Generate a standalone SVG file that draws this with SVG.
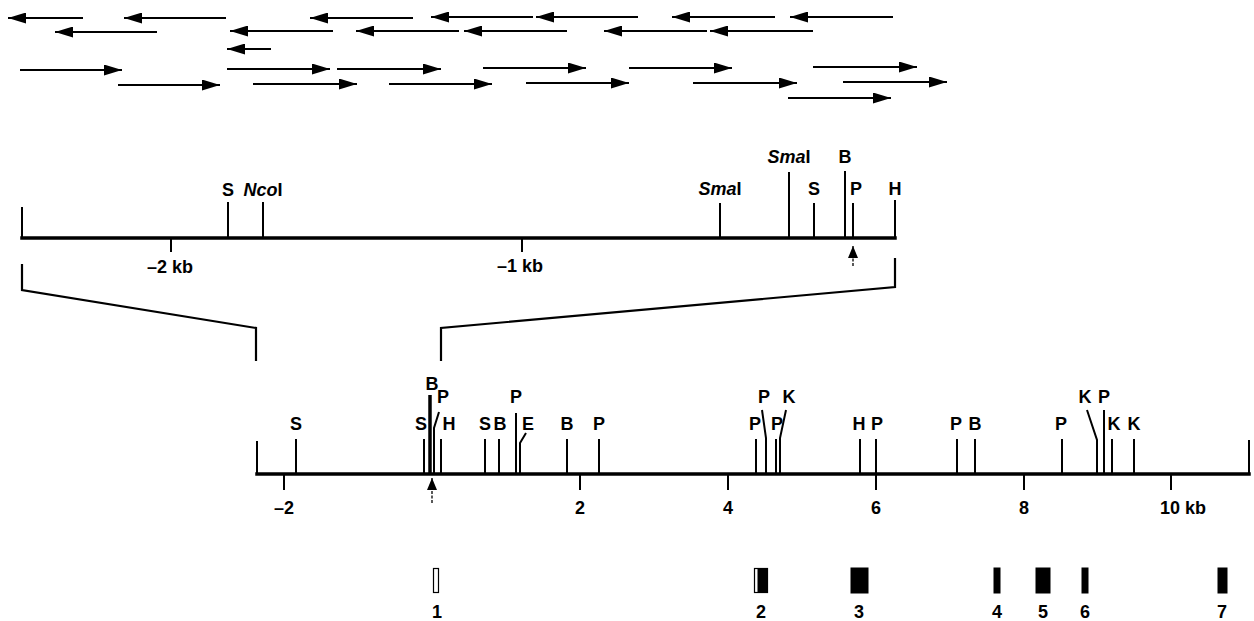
<svg xmlns="http://www.w3.org/2000/svg" width="1254" height="621" viewBox="0 0 1254 621">
<style>
text{font-family:"Liberation Sans",Arial,sans-serif;font-weight:bold;font-size:18px;fill:#000;text-anchor:middle}
.rd{stroke:#000;stroke-width:2;fill:none;marker-end:url(#ah)}
.ax{stroke:#000;stroke-width:3.5;fill:none;stroke-linecap:square}
.tk{stroke:#000;stroke-width:2;fill:none}
.br{stroke:#000;stroke-width:2.2;fill:none;stroke-linejoin:miter}
.it{font-style:italic}
.ex{fill:#000;stroke:#000;stroke-width:1}
.pa{stroke:#000;stroke-width:1.3;stroke-dasharray:3,1.5;marker-end:url(#up)}
</style>
<defs>
<marker id="ah" markerUnits="userSpaceOnUse" markerWidth="19" markerHeight="11" refX="18" refY="5.5" orient="auto">
<path d="M0,0 L18,5.5 L0,11 z" fill="#000"/>
</marker>
<marker id="up" markerUnits="userSpaceOnUse" markerWidth="13" markerHeight="11" refX="12" refY="5" orient="auto">
<path d="M0,0 L12,5 L0,10 z" fill="#000"/>
</marker>
</defs>

<g id="reads">
<line class="rd" x1="83" y1="18" x2="8" y2="18"/>
<line class="rd" x1="226" y1="18" x2="124" y2="18"/>
<line class="rd" x1="413" y1="18" x2="310" y2="18"/>
<line class="rd" x1="533" y1="17" x2="431" y2="17"/>
<line class="rd" x1="638" y1="17" x2="536" y2="17"/>
<line class="rd" x1="775" y1="17" x2="672" y2="17"/>
<line class="rd" x1="893" y1="17" x2="790" y2="17"/>
<line class="rd" x1="157" y1="32" x2="55" y2="32"/>
<line class="rd" x1="333" y1="31" x2="230" y2="31"/>
<line class="rd" x1="459" y1="31" x2="356" y2="31"/>
<line class="rd" x1="567" y1="31" x2="464" y2="31"/>
<line class="rd" x1="707" y1="31" x2="604" y2="31"/>
<line class="rd" x1="813" y1="31" x2="710" y2="31"/>
<line class="rd" x1="271" y1="49" x2="227" y2="49"/>
<line class="rd" x1="20" y1="70" x2="122" y2="70"/>
<line class="rd" x1="227" y1="69" x2="330" y2="69"/>
<line class="rd" x1="337" y1="69" x2="441" y2="69"/>
<line class="rd" x1="483" y1="68" x2="586" y2="68"/>
<line class="rd" x1="629" y1="68" x2="732" y2="68"/>
<line class="rd" x1="813" y1="67" x2="917" y2="67"/>
<line class="rd" x1="118" y1="85" x2="220" y2="85"/>
<line class="rd" x1="253" y1="84" x2="357" y2="84"/>
<line class="rd" x1="389" y1="84" x2="492" y2="84"/>
<line class="rd" x1="526" y1="83" x2="629" y2="83"/>
<line class="rd" x1="693" y1="83" x2="797" y2="83"/>
<line class="rd" x1="843" y1="82" x2="947" y2="82"/>
<line class="rd" x1="788" y1="98" x2="891" y2="98"/>
</g>

<g id="upper-map">
<line class="ax" x1="22" y1="238" x2="895" y2="238"/>
<line class="tk" x1="22" y1="207" x2="22" y2="238"/>
<line class="tk" x1="895" y1="200" x2="895" y2="238"/>
<line class="tk" x1="171" y1="238" x2="171" y2="252"/>
<line class="tk" x1="522" y1="238" x2="522" y2="252"/>
<text x="170" y="273">–2 kb</text>
<text x="520" y="272">–1 kb</text>
<line class="tk" x1="228" y1="202" x2="228" y2="238"/>
<text x="228" y="196">S</text>
<line class="tk" x1="263" y1="202" x2="263" y2="238"/>
<text x="263" y="196"><tspan class="it">Nco</tspan>I</text>
<line class="tk" x1="720" y1="203" x2="720" y2="238"/>
<text x="720" y="195"><tspan class="it">Sma</tspan>I</text>
<line class="tk" x1="789" y1="172" x2="789" y2="238"/>
<text x="789" y="163"><tspan class="it">Sma</tspan>I</text>
<line class="tk" x1="814" y1="203" x2="814" y2="238"/>
<text x="814" y="195">S</text>
<line class="tk" x1="845" y1="171" x2="845" y2="238"/>
<text x="845" y="163">B</text>
<line class="tk" x1="853" y1="203" x2="853" y2="238"/>
<text x="856" y="195">P</text>
<text x="895" y="195">H</text>
<line class="pa" x1="853" y1="266" x2="853" y2="246"/>
</g>

<g id="connectors">
<polyline class="br" points="22,264 22,290 256,328 256,361"/>
<polyline class="br" points="895,258 895,287 441,328 441,361"/>
</g>

<g id="lower-map">
<line class="ax" x1="257" y1="474" x2="1249" y2="474"/>
<line class="tk" x1="257" y1="441" x2="257" y2="474"/>
<line class="tk" x1="1249" y1="440" x2="1249" y2="474"/>
<line class="tk" x1="284" y1="474" x2="284" y2="490"/>
<line class="tk" x1="580" y1="474" x2="580" y2="490"/>
<line class="tk" x1="728" y1="474" x2="728" y2="490"/>
<line class="tk" x1="876" y1="474" x2="876" y2="490"/>
<line class="tk" x1="1024" y1="474" x2="1024" y2="490"/>
<line class="tk" x1="1171" y1="474" x2="1171" y2="490"/>
<text x="284" y="514">–2</text>
<text x="580" y="514">2</text>
<text x="728" y="514">4</text>
<text x="876" y="514">6</text>
<text x="1024" y="514">8</text>
<text x="1160" y="514" style="text-anchor:start">10 kb</text>
<line class="pa" x1="432" y1="503" x2="432" y2="478"/>

<line class="tk" x1="296" y1="439" x2="296" y2="474"/>
<text x="296" y="430">S</text>
<line class="tk" x1="424" y1="439" x2="424" y2="474"/>
<text x="421" y="430">S</text>
<line x1="430" y1="395" x2="430" y2="474" stroke="#000" stroke-width="3.5"/>
<text x="432" y="390">B</text>
<polyline class="tk" points="439,412 434,428 434,474"/>
<text x="443" y="403">P</text>
<line class="tk" x1="441" y1="439" x2="441" y2="474"/>
<text x="449" y="430">H</text>
<line class="tk" x1="485" y1="439" x2="485" y2="474"/>
<text x="485" y="430">S</text>
<line class="tk" x1="499" y1="439" x2="499" y2="474"/>
<text x="500" y="430">B</text>
<line class="tk" x1="516" y1="413" x2="516" y2="474"/>
<text x="516" y="403">P</text>
<polyline class="tk" points="526,433 520,443 520,474"/>
<text x="528" y="430">E</text>
<line class="tk" x1="567" y1="439" x2="567" y2="474"/>
<text x="567" y="430">B</text>
<line class="tk" x1="599" y1="439" x2="599" y2="474"/>
<text x="599" y="430">P</text>

<line class="tk" x1="756" y1="439" x2="756" y2="474"/>
<text x="755" y="430">P</text>
<polyline class="tk" points="762,410 766,438 766,474"/>
<text x="764" y="403">P</text>
<line class="tk" x1="776" y1="439" x2="776" y2="474"/>
<text x="777" y="430">P</text>
<polyline class="tk" points="786,410 780,438 780,474"/>
<text x="789" y="403">K</text>
<line class="tk" x1="860" y1="439" x2="860" y2="474"/>
<text x="859" y="430">H</text>
<line class="tk" x1="876" y1="439" x2="876" y2="474"/>
<text x="877" y="430">P</text>
<line class="tk" x1="957" y1="439" x2="957" y2="474"/>
<text x="956" y="430">P</text>
<line class="tk" x1="975" y1="439" x2="975" y2="474"/>
<text x="975" y="430">B</text>
<line class="tk" x1="1062" y1="439" x2="1062" y2="474"/>
<text x="1061" y="430">P</text>
<polyline class="tk" points="1087,410 1097,440 1097,474"/>
<text x="1085" y="403">K</text>
<line class="tk" x1="1104" y1="410" x2="1104" y2="474"/>
<text x="1104" y="403">P</text>
<line class="tk" x1="1112" y1="439" x2="1112" y2="474"/>
<text x="1114" y="430">K</text>
<line class="tk" x1="1134" y1="439" x2="1134" y2="474"/>
<text x="1134" y="430">K</text>
</g>

<g id="exons">
<rect x="433.5" y="568.5" width="5" height="24" fill="#fff" stroke="#000" stroke-width="1.2"/>
<text x="437" y="618">1</text>
<rect x="754.5" y="568.5" width="13" height="24" fill="#fff" stroke="#000" stroke-width="1.2"/>
<rect class="ex" x="758" y="568.5" width="9.5" height="24"/>
<text x="761" y="618">2</text>
<rect class="ex" x="851" y="568" width="17" height="25"/>
<text x="859" y="618">3</text>
<rect class="ex" x="994" y="568" width="6" height="25"/>
<text x="997" y="618">4</text>
<rect class="ex" x="1036" y="568" width="14" height="25"/>
<text x="1043" y="618">5</text>
<rect class="ex" x="1082" y="568" width="6" height="25"/>
<text x="1085" y="618">6</text>
<rect class="ex" x="1218" y="568" width="9" height="25"/>
<text x="1222" y="618">7</text>
</g>
</svg>
